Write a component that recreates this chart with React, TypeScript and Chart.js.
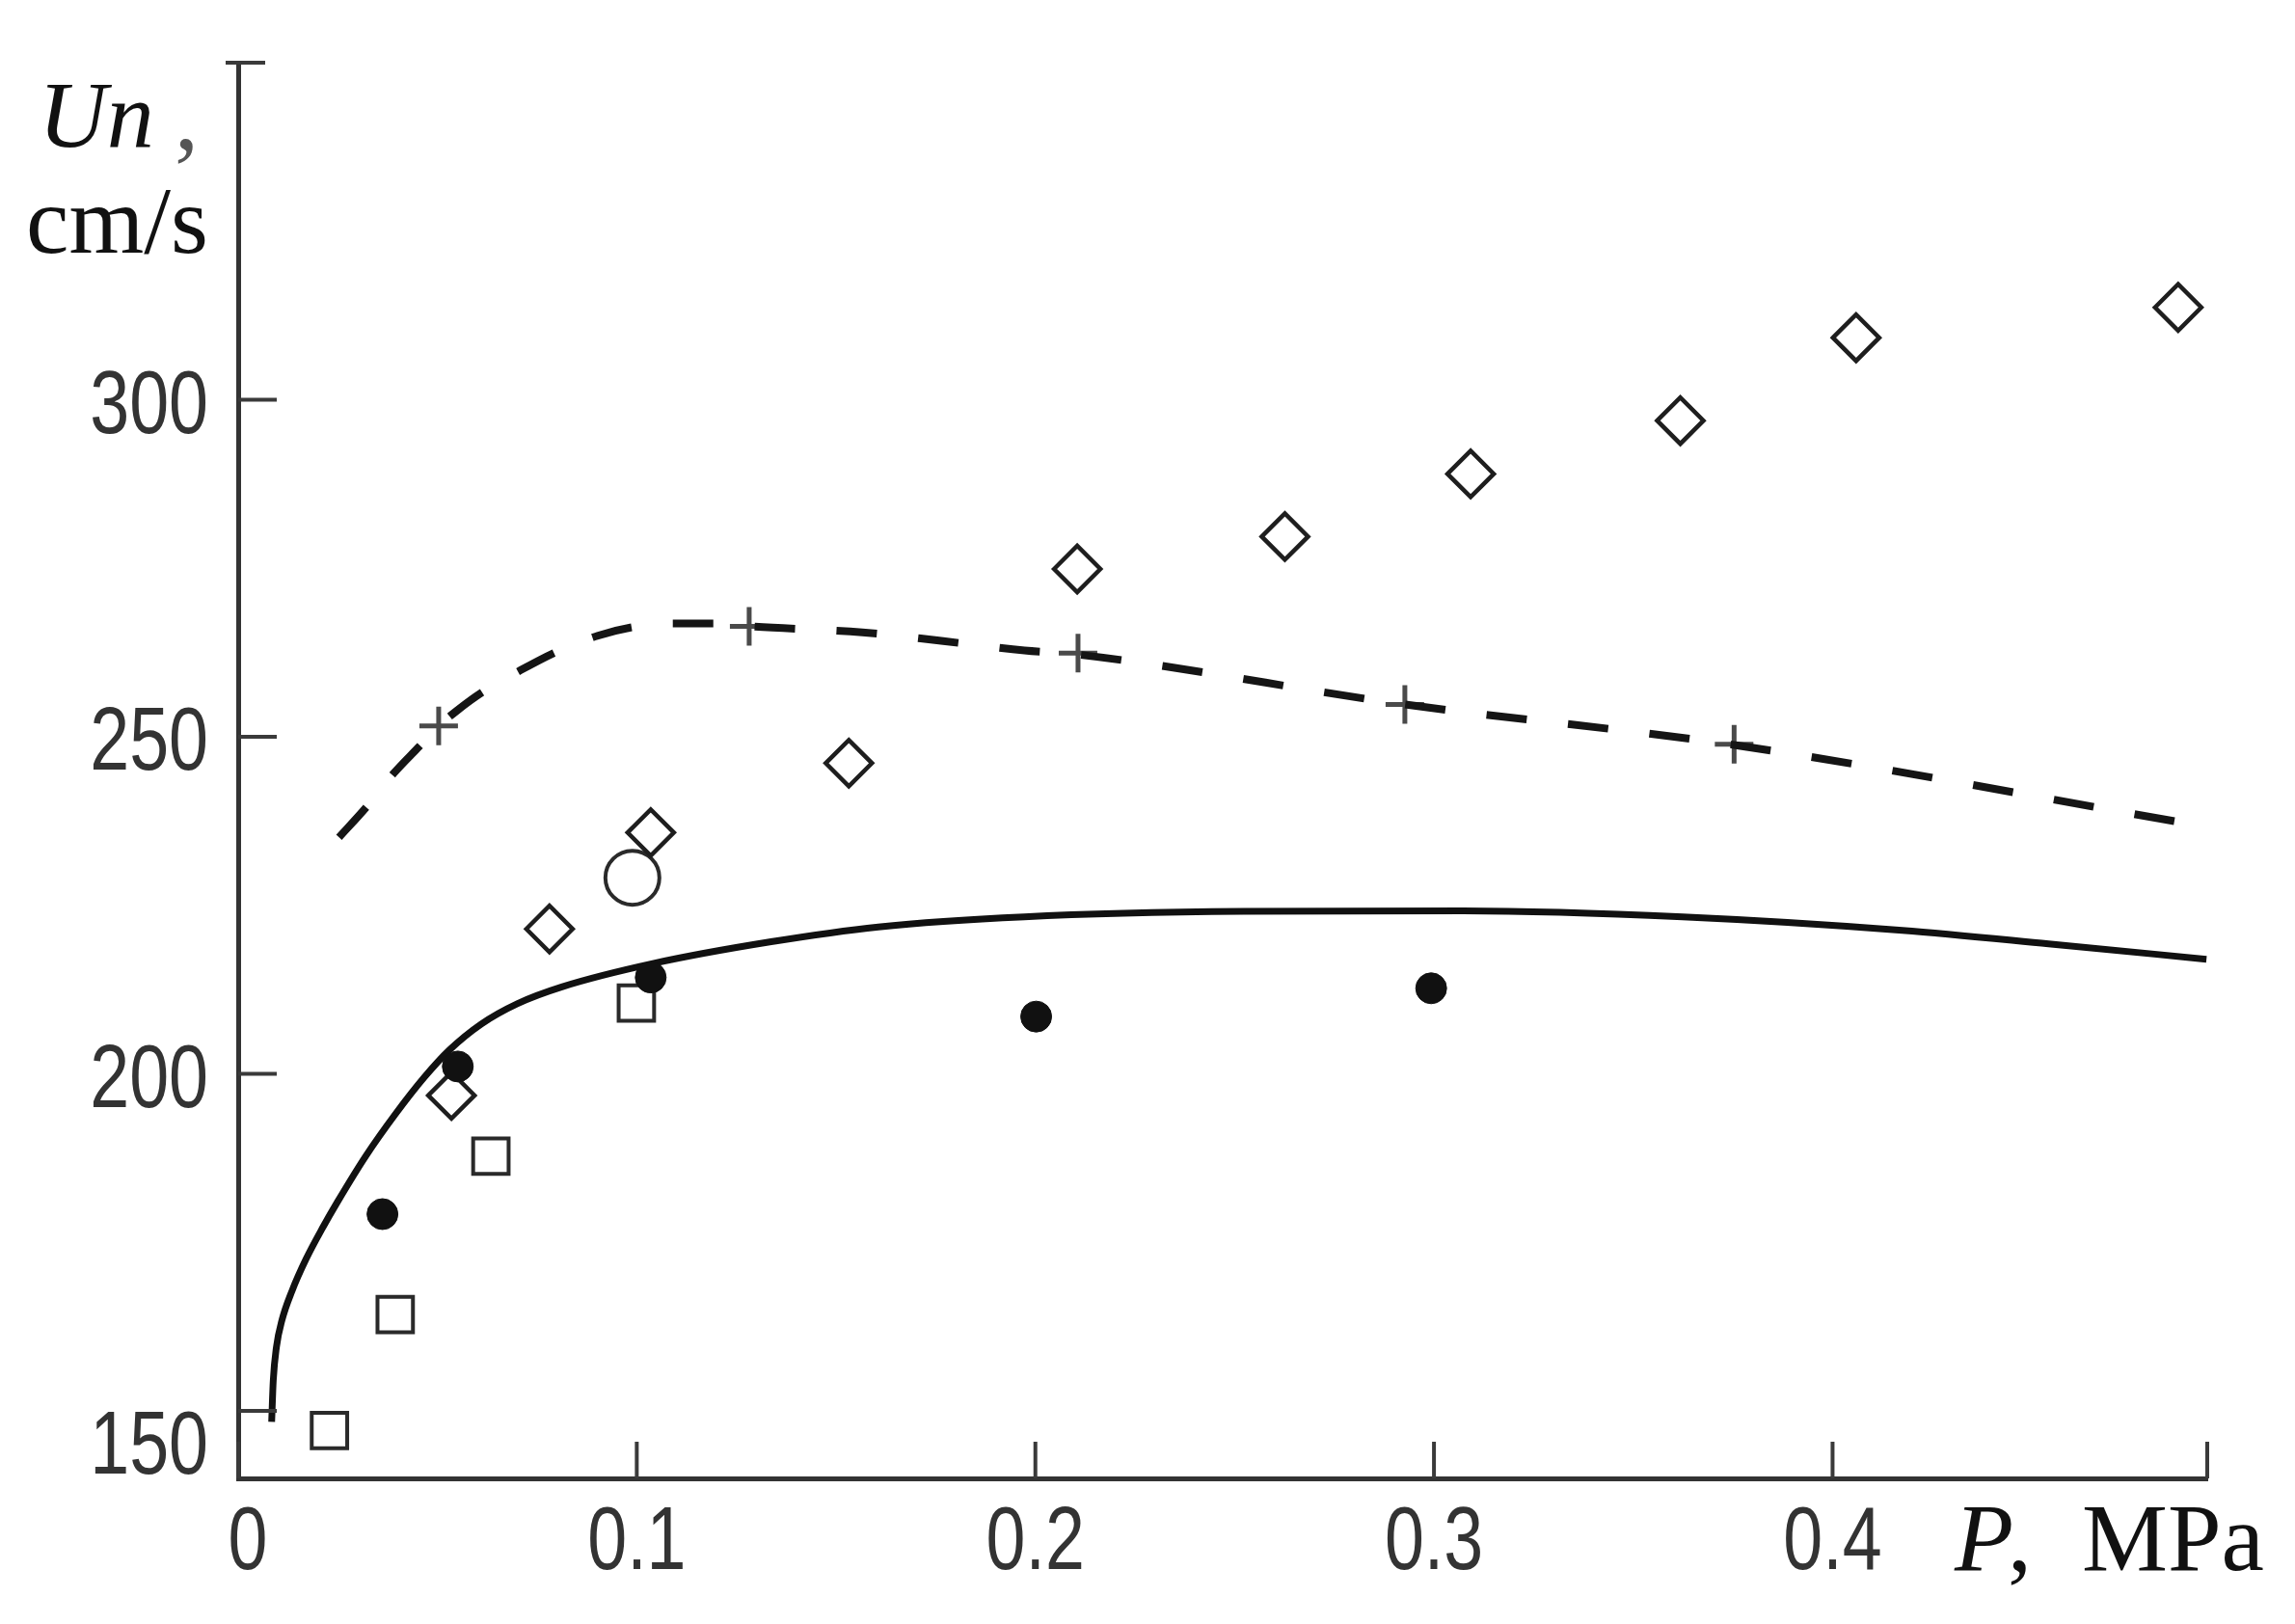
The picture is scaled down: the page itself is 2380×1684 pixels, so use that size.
import { useEffect, useRef } from "react";
import { Chart, registerables } from "chart.js";

Chart.register(...registerables);

// Solid theoretical curve
const solidP = [0.0084, 0.0088, 0.0096, 0.0110, 0.0135, 0.0170, 0.0213, 0.0249, 0.0320, 0.0394, 0.0467, 0.0531, 0.0610, 0.0700, 0.0812, 0.1043, 0.1337, 0.1606, 0.1972, 0.2523, 0.3074, 0.3624, 0.4175, 0.4542, 0.4938];
const solidUn = [148.4, 154.5, 159.5, 163.5, 167.8, 172.5, 177.3, 181.0, 187.8, 194.0, 199.5, 203.6, 207.4, 210.4, 212.9, 216.4, 219.6, 221.8, 223.3, 224.1, 224.2, 223.3, 221.3, 219.3, 217.0];

// Dashed curve
const dashedP = [0.0253, 0.0322, 0.0389, 0.0455, 0.0503, 0.0547, 0.0612, 0.0709, 0.0798, 0.0902, 0.0992, 0.1088, 0.1209, 0.1282, 0.1566, 0.1769, 0.1973, 0.2107, 0.2927, 0.3753, 0.4867];
const dashedUn = [235.1, 239.6, 244.5, 248.6, 251.6, 253.8, 256.6, 259.9, 262.6, 265.0, 266.3, 266.8, 266.8, 266.4, 265.5, 264.2, 262.8, 262.2, 254.8, 248.8, 237.4];

// "+" markers on the dashed curve
const crossP = [0.0503, 0.1282, 0.2107, 0.2927, 0.3753];
const crossUn = [251.6, 266.4, 262.4, 254.8, 248.9];

// Open diamonds
const diamondP = [0.0535, 0.0781, 0.1035, 0.1532, 0.2105, 0.2626, 0.3092, 0.3618, 0.4059, 0.4867];
const diamondUn = [196.8, 221.5, 235.8, 246.1, 274.9, 279.7, 289.0, 296.9, 309.2, 313.7];

// Open squares
const squareP = [0.0229, 0.0394, 0.0634, 0.0999];
const squareUn = [147.1, 164.3, 187.8, 210.5];

// Filled circles
const filledP = [0.0362, 0.0551, 0.1035, 0.2002, 0.2993];
const filledUn = [179.2, 201.1, 214.3, 208.5, 212.7];

// Open circle
const openCircleP = [0.0989];
const openCircleUn = [229.1];

// Axis ticks
const xTickValues = [0, 0.1, 0.2, 0.3, 0.4, 0.494];
const xTickLabels = ["0", "0.1", "0.2", "0.3", "0.4", ""];
const yTickValues = [150, 200, 250, 300, 350];
const yTickLabels = ["150", "200", "250", "300", ""];

function pts(xs: number[], ys: number[]) {
  return xs.map((x, i) => ({ x, y: ys[i] }));
}

const TICK_FONT = "92px 'Liberation Sans', Arimo, sans-serif";
const SERIF = "'Liberation Serif', 'DejaVu Serif', serif";

function condensedText(ctx: CanvasRenderingContext2D, text: string, x: number, y: number, sx: number) {
  ctx.save();
  ctx.translate(x, y);
  ctx.scale(sx, 1);
  ctx.fillText(text, 0, 0);
  ctx.restore();
}

const paperAxes = {
  id: "paperAxes",
  afterDraw(chart: any) {
    const ctx = chart.ctx as CanvasRenderingContext2D;
    const xs = chart.scales.x;
    const ys = chart.scales.y;
    const area = chart.chartArea;
    ctx.save();
    ctx.strokeStyle = "#3a3a3a";
    ctx.lineWidth = 4;
    ctx.lineCap = "butt";
    xs.ticks.forEach((t: any) => {
      const px = xs.getPixelForValue(t.value);
      ctx.beginPath();
      ctx.moveTo(px, area.bottom);
      ctx.lineTo(px, area.bottom - 38);
      ctx.stroke();
    });
    ys.ticks.forEach((t: any, i: number) => {
      const py = ys.getPixelForValue(t.value);
      const top = i === ys.ticks.length - 1;
      ctx.beginPath();
      ctx.moveTo(area.left - (top ? 13 : 0), py);
      ctx.lineTo(area.left + (top ? 28 : 40), py);
      ctx.stroke();
    });

    // tick labels
    ctx.fillStyle = "#333";
    ctx.font = TICK_FONT;
    ctx.textBaseline = "alphabetic";
    ctx.textAlign = "center";
    xs.ticks.forEach((t: any, i: number) => {
      const label = xTickLabels[i];
      if (!label) return;
      const px = xs.getPixelForValue(t.value) + (i === 0 ? 10 : 0);
      condensedText(ctx, label, px, area.bottom + 94, 0.8);
    });
    ctx.textAlign = "right";
    ys.ticks.forEach((t: any, i: number) => {
      const label = yTickLabels[i];
      if (!label) return;
      const py = ys.getPixelForValue(t.value);
      condensedText(ctx, label, area.left - 31, py + (i === 0 ? 65 : 34), 0.8);
    });

    // axis titles
    ctx.textAlign = "left";
    ctx.fillStyle = "#111";
    ctx.font = `italic 98px ${SERIF}`;
    ctx.fillText("Un", 40, 152);
    ctx.font = `100px ${SERIF}`;
    ctx.fillStyle = "#555";
    ctx.fillText(",", 181, 154);
    ctx.fillStyle = "#111";
    ctx.fillText("cm/s", 27, 262);

    ctx.font = `italic 100px ${SERIF}`;
    ctx.fillText("P", 2027, 1628);
    ctx.font = `100px ${SERIF}`;
    ctx.fillText(",", 2082, 1628);
    ctx.fillText("MPa", 2159, 1628);
    ctx.restore();
  },
};

export default function App() {
  const ref = useRef<HTMLCanvasElement | null>(null);

  useEffect(() => {
    document.body.style.margin = "0";
    const canvas = ref.current;
    if (!canvas) return;
    const chart = new Chart(canvas, {
      type: "scatter",
      data: {
        datasets: [
          {
            label: "filled",
            data: pts(filledP, filledUn),
            pointStyle: "circle",
            pointRadius: 16,
            pointBorderWidth: 1,
            pointBackgroundColor: "#111",
            pointBorderColor: "#111",
            clip: false,
          } as any,
          {
            label: "theory",
            data: pts(solidP, solidUn),
            showLine: true,
            borderColor: "#111",
            borderWidth: 7,
            pointRadius: 0,
            cubicInterpolationMode: "monotone",
            fill: false,
            clip: false,
          } as any,
          {
            label: "dashed",
            data: pts(dashedP, dashedUn),
            showLine: true,
            borderColor: "#151515",
            borderWidth: 8,
            borderDash: [42, 43],
            pointRadius: 0,
            cubicInterpolationMode: "monotone",
            fill: false,
            clip: false,
          } as any,
          {
            label: "cross",
            data: pts(crossP, crossUn),
            pointStyle: "cross",
            pointRadius: 20,
            pointBorderWidth: 5,
            pointBorderColor: "#4a4a4a",
            pointBackgroundColor: "#4a4a4a",
            clip: false,
          } as any,
          {
            label: "diamond",
            data: pts(diamondP, diamondUn),
            pointStyle: "rectRot",
            pointRadius: 24,
            pointBorderWidth: 4.5,
            pointBorderColor: "#1e1e1e",
            pointBackgroundColor: "rgba(0,0,0,0)",
            clip: false,
          } as any,
          {
            label: "square",
            data: pts(squareP, squareUn),
            pointStyle: "rect",
            pointRadius: 26,
            pointBorderWidth: 4,
            pointBorderColor: "#2a2a2a",
            pointBackgroundColor: "rgba(0,0,0,0)",
            clip: false,
          } as any,
          {
            label: "openCircle",
            data: pts(openCircleP, openCircleUn),
            pointStyle: "circle",
            pointRadius: 28,
            pointBorderWidth: 4,
            pointBorderColor: "#2a2a2a",
            pointBackgroundColor: "rgba(0,0,0,0)",
            clip: false,
          } as any,
        ],
      },
      options: {
        responsive: false,
        devicePixelRatio: 1,
        animation: false,
        events: [],
        layout: { padding: { left: 0, right: 91, top: 65, bottom: 0 } },
        plugins: {
          legend: { display: false },
          tooltip: { enabled: false },
          title: { display: false },
        },
        scales: {
          x: {
            type: "linear",
            position: "bottom",
            min: 0,
            max: 0.494,
            grid: { display: false },
            border: { display: true, color: "#333", width: 5 },
            ticks: { display: false },
            afterBuildTicks: (scale: any) => {
              scale.ticks = xTickValues.map((v) => ({ value: v }));
            },
            afterFit: (scale: any) => {
              scale.height = 151;
            },
          },
          y: {
            type: "linear",
            position: "left",
            min: 140,
            max: 350,
            grid: { display: false },
            border: { display: true, color: "#333", width: 5 },
            ticks: { display: false },
            afterBuildTicks: (scale: any) => {
              scale.ticks = yTickValues.map((v) => ({ value: v }));
            },
            afterFit: (scale: any) => {
              scale.width = 247;
            },
          },
        },
      } as any,
      plugins: [paperAxes],
    });
    return () => chart.destroy();
  }, []);

  return (
    <div style={{ position: "fixed", left: 0, top: 0, width: 2380, height: 1684, background: "#fff" }}>
      <canvas ref={ref} width={2380} height={1684} style={{ display: "block", width: 2380, height: 1684 }} />
    </div>
  );
}
